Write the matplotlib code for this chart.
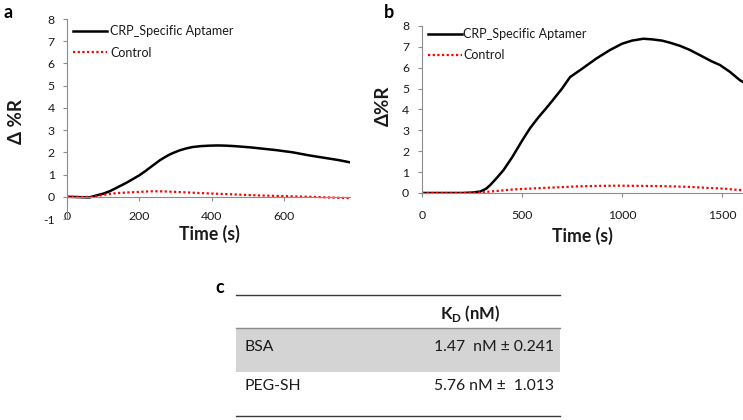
import matplotlib
matplotlib.use('Agg')
import matplotlib.pyplot as plt
from matplotlib.lines import Line2D
from matplotlib.patches import Rectangle

plt.rcParams['font.family'] = ['Lato', 'DejaVu Sans']
plt.rcParams['axes.unicode_minus'] = False

# panel a: time (s) and delta %R
t_a = [0, 20, 40, 62, 81, 100, 118, 140, 164, 180, 199, 215, 228, 242, 256, 270,
       283, 297, 311, 330, 347, 370, 393, 416, 439, 462, 485, 508, 531, 554,
       577, 600, 623, 646, 669, 692, 715, 750, 781]
aptamer_a = [0.0, -0.01, -0.02, -0.03, 0.06, 0.14, 0.25, 0.43, 0.63, 0.78, 0.96,
             1.14, 1.3, 1.47, 1.64, 1.78, 1.9, 2.0, 2.09, 2.18, 2.24, 2.28, 2.3,
             2.31, 2.3, 2.28, 2.25, 2.22, 2.18, 2.14, 2.1, 2.05, 2.0, 1.93,
             1.86, 1.8, 1.74, 1.65, 1.55]
t_ctrl_a = [0, 40, 72, 95, 118, 140, 164, 200, 237, 270, 301, 350, 393, 440, 485,
            530, 577, 620, 669, 720, 780]
control_a = [0.0, -0.01, 0.0, 0.07, 0.13, 0.17, 0.19, 0.22, 0.25, 0.24, 0.22,
             0.18, 0.15, 0.12, 0.09, 0.06, 0.04, 0.02, 0.0, -0.03, -0.06]

# panel b
t_b = [0, 100, 200, 250, 291, 320, 340, 370, 407, 450, 500, 540, 580, 620, 650,
       700, 740, 800, 873, 940, 1000, 1050, 1107, 1150, 1200, 1240, 1290, 1340,
       1400, 1450, 1490, 1540, 1590, 1605]
aptamer_b = [0.0, 0.0, 0.0, 0.02, 0.07, 0.2, 0.37, 0.68, 1.09, 1.7, 2.5, 3.1,
             3.6, 4.05, 4.4, 5.0, 5.55, 5.95, 6.45, 6.85, 7.15, 7.3, 7.39, 7.36,
             7.3, 7.2, 7.05, 6.85, 6.55, 6.3, 6.13, 5.8, 5.4, 5.32]
t_ctrl_b = [0, 226, 280, 341, 400, 456, 540, 620, 700, 785, 880, 982, 1100, 1196,
            1280, 1360, 1440, 1524, 1574, 1605]
control_b = [0.0, 0.0, 0.02, 0.07, 0.12, 0.17, 0.21, 0.25, 0.28, 0.32, 0.34,
             0.35, 0.34, 0.33, 0.31, 0.28, 0.24, 0.2, 0.15, 0.13]

legend_labels = ['CRP_Specific Aptamer', 'Control']

# panel c table
table_rows = ['BSA', 'PEG-SH']
table_values = ['1.47  nM \u00b1 0.241', '5.76 nM \u00b1  1.013']
table_header = r'K$_{\mathregular{D}}$ (nM)'

W, H = 743, 420
AX_GRAY = '#8c8c8c'
TXT = '#1a1a1a'


def fx(px):
    return px / W


def fy(py):
    return 1 - py / H


def style_axis(ax, xpad, ypad):
    for s in ['top', 'right']:
        ax.spines[s].set_visible(False)
    ax.spines['left'].set_color(AX_GRAY)
    ax.spines['bottom'].set_color(AX_GRAY)
    ax.spines['bottom'].set_position(('data', 0))
    ax.spines['left'].set_linewidth(0.8)
    ax.spines['bottom'].set_linewidth(0.8)
    ax.tick_params(axis='y', direction='out', length=3, width=0.8, color=AX_GRAY,
                   labelsize=8.8, labelcolor=TXT, pad=ypad)
    ax.tick_params(axis='x', direction='out', length=3, width=0.8, color=AX_GRAY,
                   labelsize=8.8, labelcolor=TXT, pad=xpad)


fig = plt.figure(figsize=(W / 100, H / 100), dpi=100)

# panel a
ax1 = fig.add_axes([fx(67), fy(219), fx(283), 200 / H])
ax1.plot(t_a, aptamer_a, color='black', lw=1.8, label=legend_labels[0])
ax1.plot(t_ctrl_a, control_a, color='red', lw=1.6, ls=(0, (1, 1.1)), label=legend_labels[1])
ax1.set_xlim(0, 781)
ax1.set_ylim(-1, 8)
ax1.set_xticks([0, 200, 400, 600])
ax1.set_yticks(range(-1, 9))
style_axis(ax1, 7.0, 5.8)
ax1.set_xlabel('Time (s)', fontsize=12.7, fontweight='bold', color=TXT)
ax1.xaxis.set_label_coords(0.505, -0.03)
ax1.set_ylabel('\u0394 %R', fontsize=13.5, fontweight='bold', color=TXT)
ax1.yaxis.set_label_coords(-0.15, 0.49)
ax1.legend(loc='upper left', bbox_to_anchor=(0.0, 1.0), frameon=False,
           fontsize=9, handlelength=2.7, handletextpad=0.25,
           labelspacing=0.75, borderpad=0.2, borderaxespad=0.3, labelcolor=TXT)

# panel b
ax2 = fig.add_axes([fx(422), fy(193), fx(321), 167 / H])
ax2.plot(t_b, aptamer_b, color='black', lw=1.8, label=legend_labels[0])
ax2.plot(t_ctrl_b, control_b, color='red', lw=1.6, ls=(0, (1, 1.1)), label=legend_labels[1])
ax2.set_xlim(0, 1605)
ax2.set_ylim(0, 8)
ax2.set_xticks([0, 500, 1000, 1500])
ax2.set_yticks(range(0, 9))
style_axis(ax2, 9.0, 6.2)
ax2.set_xlabel('Time (s)', fontsize=12.7, fontweight='bold', color=TXT)
ax2.xaxis.set_label_coords(0.5, -0.2)
ax2.set_ylabel('\u0394%R', fontsize=13.5, fontweight='bold', color=TXT)
ax2.yaxis.set_label_coords(-0.095, 0.52)
ax2.legend(loc='upper left', bbox_to_anchor=(0.0, 1.025), frameon=False,
           fontsize=9, handlelength=2.7, handletextpad=0.1,
           labelspacing=0.75, borderpad=0.2, borderaxespad=0.3, labelcolor=TXT)

# panel letters
fig.text(fx(8), fy(12.5), 'a', fontsize=13, fontweight='bold', ha='center', va='center')
fig.text(fx(389), fy(13), 'b', fontsize=13, fontweight='bold', ha='center', va='center')
fig.text(fx(220), fy(287.5), 'c', fontsize=13, fontweight='bold', ha='center', va='center')

# panel c table
x0, x1 = fx(236), fx(560)
fig.add_artist(Rectangle((x0, fy(372)), x1 - x0, (372 - 328) / H,
                         transform=fig.transFigure, facecolor='#d4d4d4', edgecolor='none'))
for py, c in [(295, '#3a3a3a'), (328, '#8a8a8a'), (416, '#3a3a3a')]:
    fig.add_artist(Line2D([x0, x1], [fy(py), fy(py)], transform=fig.transFigure,
                          color=c, lw=1.0))
fig.text(fx(470), fy(313), table_header, fontsize=12, fontweight='bold',
         ha='center', va='center', color=TXT)
for i, (name, val) in enumerate(zip(table_rows, table_values)):
    py = [347, 386][i]
    fig.text(fx(245), fy(py), name, fontsize=11.3, ha='left', va='center', color=TXT)
    fig.text(fx(554), fy(py), val, fontsize=11.3, ha='right', va='center', color=TXT)

fig.savefig('out.png', dpi=100)
